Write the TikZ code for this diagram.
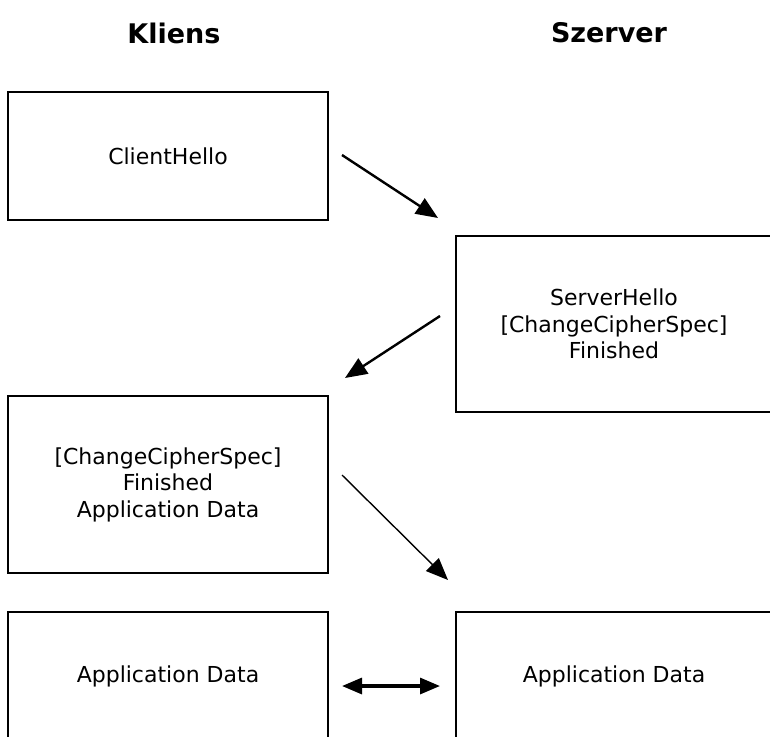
\documentclass[tikz,border=0pt]{standalone}
\usepackage{fontspec}
\setmainfont{DejaVu Sans}
\usetikzlibrary{arrows.meta}
\begin{document}
\begin{tikzpicture}[x=1pt,y=-1pt,
  msgbox/.style={draw=black,line width=2pt,rectangle,inner sep=0pt,
    align=center,font=\fontsize{22}{26.5}\selectfont},
  header/.style={font=\fontsize{27}{30}\selectfont\bfseries},
  flow/.style={line width=2.4pt,-{Triangle[length=22pt,width=18pt]}},
  thinflow/.style={line width=1.4pt,-{Triangle[length=22pt,width=18pt]}},
  both/.style={line width=3.2pt,{Triangle[length=20pt,width=16pt]}-{Triangle[length=20pt,width=16pt]}}]
  \useasboundingbox (0,0) rectangle (770,736);
  \fill[white] (0,0) rectangle (770,736);

  % column headings
  \node[header] (kliens) at (174,33) {Kliens};
  \node[header] (szerver) at (609,33) {Szerver};

  % handshake messages
  \node[msgbox,minimum width=320pt,minimum height=128pt] (ch) at (168,156) {ClientHello};
  \node[msgbox,minimum width=316pt,minimum height=176pt] (sh) at (614,324)
    {ServerHello\\{[ChangeCipherSpec]}\\Finished};
  \node[msgbox,minimum width=320pt,minimum height=177pt] (cf) at (168,484.5)
    {{[ChangeCipherSpec]}\\Finished\\Application Data};
  \node[msgbox,minimum width=320pt,minimum height=128pt] (cad) at (168,676) {Application Data};
  \node[msgbox,minimum width=316pt,minimum height=128pt] (sad) at (614,676) {Application Data};

  % arrow end points
  \coordinate (a1s) at (342,155);
  \coordinate (a1e) at (438,218);
  \coordinate (a2s) at (440,316);
  \coordinate (a2e) at (345,378);
  \coordinate (a3s) at (342,475);
  \coordinate (a3e) at (448,580);
  \coordinate (a4s) at (342,686);
  \coordinate (a4e) at (440,686);

  \draw[flow] (a1s) -- (a1e);
  \draw[flow] (a2s) -- (a2e);
  \draw[thinflow] (a3s) -- (a3e);
  \draw[both] (a4s) -- (a4e);
\end{tikzpicture}
\end{document}
